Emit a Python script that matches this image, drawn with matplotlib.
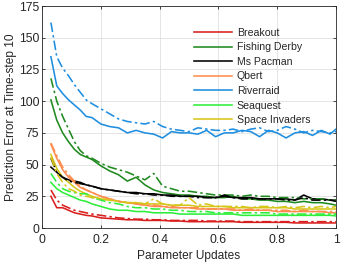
import matplotlib
matplotlib.use("Agg")
import matplotlib.pyplot as plt

plt.rcParams["font.family"] = ["Liberation Sans", "DejaVu Sans"]

updates = [0.03, 0.05, 0.07, 0.09, 0.11, 0.13, 0.15, 0.17, 0.2, 0.23, 0.26, 0.29,
           0.32, 0.35, 0.38, 0.41, 0.44, 0.47, 0.5, 0.53, 0.56, 0.59, 0.62, 0.65,
           0.68, 0.71, 0.74, 0.77, 0.8, 0.83, 0.86, 0.89, 0.92, 0.95, 0.98, 1.0]

games = ["Breakout", "Fishing Derby", "Ms Pacman", "Qbert", "Riverraid",
         "Seaquest", "Space Invaders"]
colors = ["#d91e1e", "#1f8a1f", "#000000", "#ff8c4d", "#1f8ee0", "#2eee3a", "#d6c61a"]

# solid lines
breakout_a = [25, 16, 16, 14, 12, 11, 10, 9.5, 8, 7.5, 7, 6.5, 6.5, 6, 6, 6, 5.5, 5.5,
              5, 5, 5, 5, 5, 5, 4.5, 4.5, 4.5, 4.5, 4.5, 4.5, 4, 4, 4, 4, 4, 4]
fishing_a = [101, 85, 75, 68, 62, 58, 56, 54, 49, 45, 42, 37, 40, 34, 30, 28, 27, 26,
             26, 25, 25, 24, 24, 25, 23, 23, 22, 22, 21, 21, 20, 21, 20, 20, 19, 18]
pacman_a = [48, 44, 40, 38, 37, 36, 34, 33, 31, 30, 29, 28, 28, 27, 27, 26, 26, 25,
            25, 25, 24, 24, 25, 24, 24, 24, 23, 23, 23, 23, 22, 26, 23, 23, 22, 22]
qbert_a = [66, 55, 46, 40, 36, 32, 30, 28, 25, 23, 21, 20, 19, 18, 17, 17, 16, 16,
           16, 15, 15, 15, 15, 14, 14, 14, 14, 14, 13, 13, 13, 13, 13, 13, 12, 12]
riverraid_a = [135, 112, 106, 101, 97, 93, 88, 87, 82, 80, 79, 75, 77, 75, 74, 71, 76, 75,
               75, 74, 77, 72, 75, 75, 77, 76, 72, 77, 75, 71, 75, 76, 73, 77, 74, 78]
seaquest_a = [36, 31, 28, 26, 24, 22, 21, 19, 17, 15, 14, 14, 13, 13, 12, 12, 12, 11,
              11, 11, 11, 11, 11, 11, 10, 10, 10, 10, 10, 10, 10, 10, 10, 10, 10, 9.5]
invaders_a = [58, 47, 40, 36, 32, 29, 27, 25, 23, 22, 21, 20, 20, 19, 19, 19, 18, 18,
              18, 17, 17, 17, 17, 16, 16, 16, 16, 16, 16, 16, 15, 15, 15, 15, 15, 15]

# dash-dot lines
breakout_b = [30, 22, 18, 16, 14, 13, 12, 11, 10, 9, 8, 7.5, 7, 7, 6.5, 6.5, 6, 6,
              6, 6, 5.5, 5.5, 5.5, 5.5, 5, 5, 5, 5, 5, 5, 5, 5, 5, 5, 5, 5]
fishing_b = [118, 100, 88, 78, 68, 61, 57, 55, 51, 48, 46, 44, 41, 38, 43, 33, 31, 29,
             29, 28, 27, 26, 26, 26, 25, 26, 25, 25, 24, 24, 24, 23, 23, 23, 22, 22]
pacman_b = [55, 44, 40, 37, 36, 35, 34, 33, 31, 30, 29, 28, 27, 27, 26, 26, 25, 25,
            25, 24, 24, 24, 26, 24, 23, 23, 23, 23, 23, 22, 22, 24, 22, 22, 22, 21]
qbert_b = [67, 57, 48, 42, 37, 33, 30, 28, 25, 23, 21, 20, 19, 18, 18, 17, 17, 16,
           16, 16, 15, 15, 15, 15, 14, 15, 14, 14, 14, 14, 13, 14, 13, 13, 13, 13]
riverraid_b = [162, 135, 126, 120, 113, 107, 101, 98, 94, 90, 86, 84, 83, 82, 84, 80, 78, 77,
               76, 79, 78, 77, 77, 78, 76, 78, 79, 76, 77, 80, 78, 75, 77, 76, 75, 76]
seaquest_b = [43, 36, 31, 29, 28, 27, 27, 24, 22, 20, 19, 17, 16, 16, 15, 15, 14, 14,
              13, 13, 13, 12, 12, 12, 12, 12, 12, 12, 11, 11, 11, 11, 11, 11, 11, 11]
invaders_b = [56, 43, 36, 31, 29, 26, 25, 24, 23, 22, 21, 20, 20, 19, 23, 19, 18, 18,
              24, 18, 19, 17, 17, 17, 17, 16, 17, 17, 16, 17, 16, 17, 16, 17, 16, 17]

solid = [breakout_a, fishing_a, pacman_a, qbert_a, riverraid_a, seaquest_a, invaders_a]
dashdot = [breakout_b, fishing_b, pacman_b, qbert_b, riverraid_b, seaquest_b, invaders_b]

text_color = "#262626"

fig = plt.figure(figsize=(3.45, 2.63), dpi=100)
ax = fig.add_axes([0.122, 0.133, 0.852, 0.844])

for name, color, ys in zip(games, colors, solid):
    ax.plot(updates, ys, color=color, linewidth=1.15, label=name)
for color, ys in zip(colors, dashdot):
    ax.plot(updates, ys, color=color, linewidth=1.15, linestyle=(0, (6, 2, 1.5, 2)))

ax.set_xlim(0, 1)
ax.set_ylim(0, 175)
ax.set_xticks([0, 0.2, 0.4, 0.6, 0.8, 1])
ax.set_xticklabels(["0", "0.2", "0.4", "0.6", "0.8", "1"])
ax.set_yticks(range(0, 176, 25))
ax.grid(True, color="#e0e0e0", linewidth=0.6)
ax.set_axisbelow(True)
ax.tick_params(direction="in", length=2.5, width=0.6, labelsize=8.8,
               colors=text_color, top=True, right=True, pad=2)
ax.tick_params(axis="x", pad=4)
for spine in ax.spines.values():
    spine.set_linewidth(0.6)
    spine.set_color(text_color)

ax.set_xlabel("Parameter Updates", fontsize=8.6, color=text_color, labelpad=3)
ax.set_ylabel("Prediction Error at Time-step 10", fontsize=8.6, color=text_color, labelpad=1)

ax.legend(loc="upper left", bbox_to_anchor=(0.49, 0.935), frameon=False,
          fontsize=7.6, handlelength=3.6, handletextpad=0.5, labelspacing=0.43,
          borderpad=0.2, labelcolor=text_color)

fig.savefig("out.png", dpi=100)
